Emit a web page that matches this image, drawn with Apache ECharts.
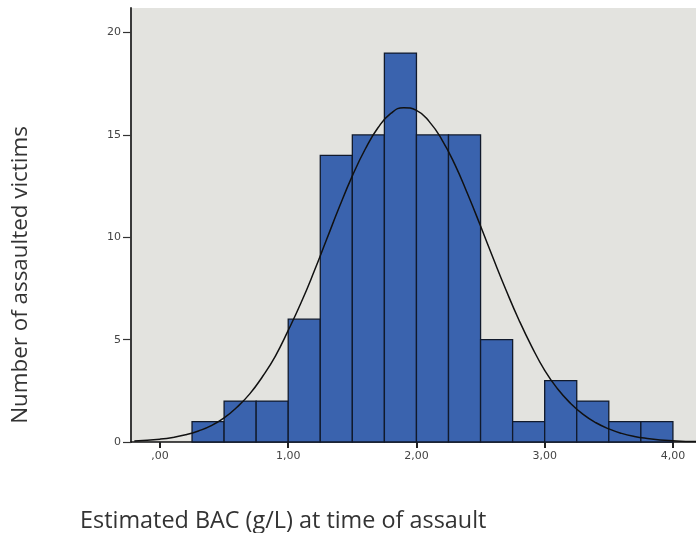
<!DOCTYPE html>
<html>
<head>
<meta charset="utf-8">
<script src="https://cdn.jsdelivr.net/npm/echarts@6/dist/echarts.min.js"></script>
<style>html,body{margin:0;padding:0;background:#fff;}#c{width:696px;height:533px;}</style>
</head>
<body>
<div id="c"></div>
<script>
// ---- data ----
const binLower = [0.25, 0.50, 0.75, 1.00, 1.25, 1.50, 1.75, 2.00, 2.25, 2.50, 2.75, 3.00, 3.25, 3.50, 3.75];
const binUpper = [0.50, 0.75, 1.00, 1.25, 1.50, 1.75, 2.00, 2.25, 2.50, 2.75, 3.00, 3.25, 3.50, 3.75, 4.00];
const counts   = [1, 2, 2, 6, 14, 15, 19, 15, 15, 5, 1, 3, 2, 1, 1];

// fitted normal curve
const curveX = [-0.2, 0.0, 0.1, 0.2, 0.3, 0.4, 0.5, 0.6, 0.7, 0.8, 0.9, 1.0, 1.1, 1.2, 1.3, 1.4, 1.5, 1.6, 1.7, 1.8, 1.9,
                2.0, 2.1, 2.2, 2.3, 2.4, 2.5, 2.6, 2.7, 2.8, 2.9, 3.0, 3.1, 3.2, 3.3, 3.4, 3.5, 3.6, 3.7, 3.8, 3.9, 4.0, 4.1, 4.2];
const curveY = [0.05, 0.14, 0.22, 0.35, 0.54, 0.8, 1.18, 1.7, 2.35, 3.2, 4.2, 5.45, 6.8, 8.3, 9.9, 11.5, 13.0, 14.3, 15.35, 16.05, 16.33,
                16.2, 15.65, 14.75, 13.55, 12.1, 10.55, 8.95, 7.4, 5.95, 4.65, 3.5, 2.6, 1.9, 1.35, 0.94, 0.64, 0.42, 0.27, 0.17, 0.1, 0.06, 0.03, 0.02];

const xTickValues = [0, 1, 2, 3, 4];
const xTickLabels = [',00', '1,00', '2,00', '3,00', '4,00'];
const yTickValues = [0, 5, 10, 15, 20];
const yTickLabels = ['0', '5', '10', '15', '20'];

const xTitle = 'Estimated BAC (g/L) at time of assault';
const yTitle = 'Number of assaulted victims';

// ---- chart ----
const histData = binLower.map((lo, i) => [lo, binUpper[i], counts[i]]);
const curveData = curveX.map((x, i) => [x, curveY[i]]);

const chart = echarts.init(document.getElementById('c'), null, {renderer: 'canvas'});
chart.setOption({
  animation: false,
  backgroundColor: '#ffffff',
  grid: {
    left: 131, top: 8, right: 0, bottom: 91,
    show: true, backgroundColor: '#e3e3df', borderWidth: 0
  },
  xAxis: {
    type: 'value',
    min: -0.226, max: 4.18,
    splitLine: {show: false},
    axisLine: {show: true, onZero: false, lineStyle: {color: '#111', width: 1.5}},
    axisTick: {show: true, customValues: xTickValues, length: 6, lineStyle: {color: '#222', width: 2}},
    axisLabel: {
      customValues: xTickValues,
      formatter: v => xTickLabels[xTickValues.indexOf(Math.round(v))] || '',
      color: '#444', fontSize: 11, fontFamily: 'DejaVu Sans', margin: 9
    }
  },
  yAxis: {
    type: 'value',
    min: 0, max: 21.2,
    splitLine: {show: false},
    axisLine: {show: true, onZero: false, lineStyle: {color: '#3a3a3a', width: 2}},
    axisTick: {show: true, customValues: yTickValues, length: 8, lineStyle: {color: '#333', width: 1.2}},
    axisLabel: {
      customValues: yTickValues,
      formatter: v => yTickLabels[yTickValues.indexOf(Math.round(v))] || '',
      color: '#444', fontSize: 11, fontFamily: 'DejaVu Sans', margin: 10
    }
  },
  series: [
    {
      type: 'custom',
      data: histData,
      encode: {x: [0, 1], y: 2},
      renderItem: function (params, api) {
        const p0 = api.coord([api.value(0), api.value(2)]);
        const p1 = api.coord([api.value(1), 0]);
        return {
          type: 'rect',
          shape: {x: p0[0], y: p0[1], width: p1[0] - p0[0], height: p1[1] - p0[1]},
          style: {fill: '#3a63ae', stroke: '#111a2c', lineWidth: 1.3}
        };
      },
      z: 2
    },
    {
      type: 'line',
      data: curveData,
      smooth: true,
      showSymbol: false,
      symbol: 'none',
      lineStyle: {color: '#111', width: 1.5},
      z: 3
    }
  ],
  graphic: [
    {
      type: 'text',
      x: 80, y: 521,
      style: {text: xTitle, fill: '#333', font: '23.4px "Open Sans"', align: 'left', verticalAlign: 'middle'}
    },
    {
      type: 'text',
      x: 21, y: 275, rotation: Math.PI / 2,
      style: {text: yTitle, fill: '#333', font: '22.4px "Open Sans"', align: 'center', verticalAlign: 'middle'}
    }
  ]
});
</script>
</body>
</html>
